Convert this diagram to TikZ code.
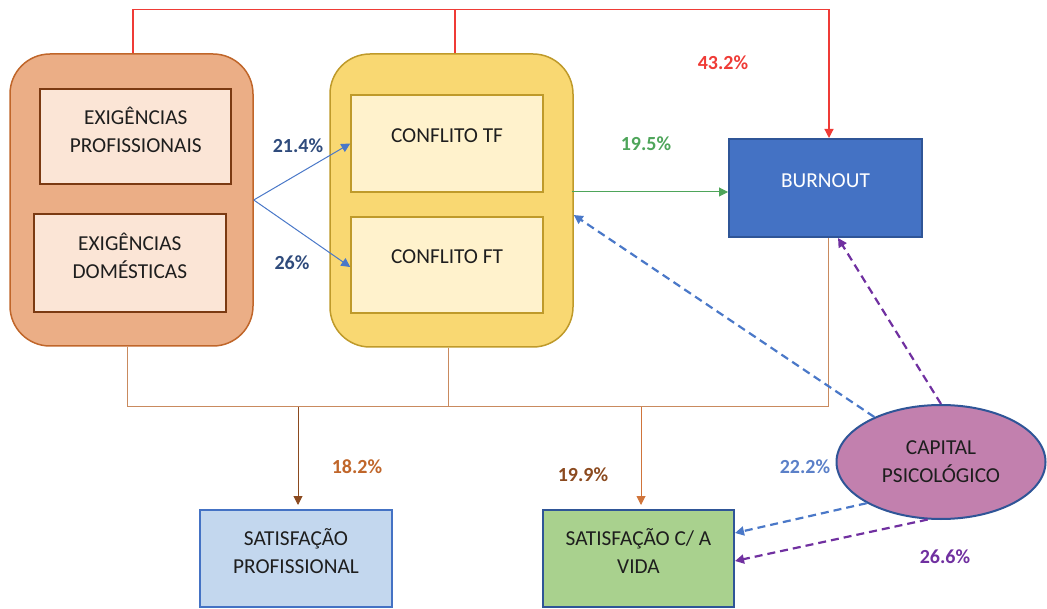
\documentclass[tikz,border=0pt]{standalone}
\usepackage{fontspec}
\setmainfont{Carlito}
\usetikzlibrary{arrows.meta,shapes.geometric,calc}
\definecolor{ogfill}{HTML}{EBAE86}
\definecolor{ogdraw}{HTML}{C0662A}
\definecolor{ogin}{HTML}{FBE5D6}
\definecolor{ogindraw}{HTML}{7B3A12}
\definecolor{ybfill}{HTML}{F9D872}
\definecolor{ybdraw}{HTML}{BF9A2A}
\definecolor{ybin}{HTML}{FFF2CC}
\definecolor{bofill}{HTML}{4472C4}
\definecolor{bodraw}{HTML}{2F5597}
\definecolor{spfill}{HTML}{C3D7EE}
\definecolor{svfill}{HTML}{A9D18E}
\definecolor{cpfill}{HTML}{C280AE}
\definecolor{linered}{HTML}{EF3B36}
\definecolor{greenl}{HTML}{4EA55A}
\definecolor{navyl}{HTML}{2F4B7C}
\definecolor{bluel}{HTML}{4A78C8}
\definecolor{bluelab}{HTML}{5B80C8}
\definecolor{purplel}{HTML}{7030A0}
\definecolor{tanl}{HTML}{C98A5E}
\definecolor{brownl}{HTML}{8B4A1F}
\definecolor{orangel}{HTML}{D0743A}
\definecolor{txt}{HTML}{1E1E1E}
\tikzset{
  bx/.style={rectangle, inner sep=0pt},
  boxtext/.style={align=center, text=txt, font=\fontsize{21.3}{28}\selectfont},
  pct/.style={font=\fontsize{20}{24}\selectfont\bfseries},
  solidarrow/.style={line width=1pt, -{Triangle[length=9pt,width=9pt]}},
  dasharrow/.style={line width=2.2pt, dash pattern=on 8pt off 5pt, -{Triangle[length=9pt,width=9pt]}},
}
\begin{document}
\begin{tikzpicture}[x=1pt,y=-1pt]
\useasboundingbox (0,0) rectangle (1047,609);
% group boxes
\node[bx, fill=ogfill, draw=ogdraw, line width=1.5pt, rounded corners=40pt, minimum width=243pt, minimum height=292pt] (og) at (131.5,200) {};
\node[bx, fill=ybfill, draw=ybdraw, line width=1.5pt, rounded corners=40pt, minimum width=243pt, minimum height=293pt] (yb) at (451.5,200.5) {};
% inner boxes
\node[bx, fill=ogin, draw=ogindraw, line width=2pt, minimum width=191pt, minimum height=95pt] (ep) at (135.75,136.5) {};
\node[bx, fill=ogin, draw=ogindraw, line width=2pt, minimum width=192pt, minimum height=98pt] (ed) at (129.85,263) {};
\node[bx, fill=ybin, draw=ybdraw, line width=1.5pt, minimum width=192pt, minimum height=97pt] (ctf) at (447,143.5) {};
\node[bx, fill=ybin, draw=ybdraw, line width=1.5pt, minimum width=192pt, minimum height=96pt] (cft) at (447,265) {};
\node[bx, fill=bofill, draw=bodraw, line width=2pt, minimum width=193pt, minimum height=98pt] (bo) at (825.5,188) {};
\node[bx, fill=spfill, draw=bofill, line width=2pt, minimum width=192pt, minimum height=97pt] (sp) at (296,558.5) {};
\node[bx, fill=svfill, draw=bodraw, line width=2pt, minimum width=191pt, minimum height=97pt] (sv) at (638.5,558.5) {};
\node[ellipse, inner sep=0pt, fill=cpfill, draw=bodraw, line width=2pt, minimum width=209pt, minimum height=114pt] (cp) at (941,462) {};
% texts
\node[boxtext] (ept) at ([yshift=7pt]ep.center) {EXIGÊNCIAS\\PROFISSIONAIS};
\node[boxtext] (edt) at ([yshift=7pt]ed.center) {EXIGÊNCIAS\\DOMÉSTICAS};
\node[boxtext] (ctft) at ([yshift=8pt]ctf.center) {CONFLITO TF};
\node[boxtext] (cftt) at ([yshift=8pt]cft.center) {CONFLITO FT};
\node[boxtext, text=white] (bot) at ([yshift=7pt]bo.center) {BURNOUT};
\node[boxtext] (spt) at ([yshift=7pt]sp.center) {SATISFAÇÃO\\PROFISSIONAL};
\node[boxtext] (svt) at ([yshift=7pt]sv.center) {SATISFAÇÃO C/ A\\VIDA};
\node[boxtext] (cpt) at (cp.center) {CAPITAL\\PSICOLÓGICO};
% red connector
\coordinate (top) at (0,9.5);
\draw[draw=linered, line width=1.2pt] ([xshift=1.5pt]og.north) -- ([xshift=1.5pt]og.north |- top) -- ([xshift=3.5pt]bo.north |- top);
\draw[draw=linered, line width=1.2pt] ([xshift=3.5pt]yb.north) -- ([xshift=3.5pt]yb.north |- top);
\draw[draw=linered, fill=linered, solidarrow, line width=1.2pt] ([xshift=3.5pt]bo.north |- top) -- ([xshift=3.5pt]bo.north);
% blue arrows
\draw[bluel, solidarrow] (og.east) -- (ctf.west);
\draw[bluel, solidarrow] (og.east) -- ([yshift=-2pt]cft.west);
% green arrow
\draw[greenl, solidarrow] ($(yb.east |- bo.west)+(-2,4)$) -- ($(bo.west)+(0,4)$);
% bottom connectors
\coordinate (br) at (828,407);
\draw[tanl, line width=1pt] ([xshift=-4pt]og.south) |- (br) -- ([xshift=2.5pt]bo.south);
\draw[tanl, line width=1pt] ([xshift=-3pt]yb.south) -- ([xshift=-3pt]yb.south |- br);
\draw[brownl, solidarrow, shorten >=4pt] ([xshift=2pt]sp.north |- br) -- ([xshift=2pt]sp.north);
\draw[orangel, solidarrow, shorten >=4pt] ([xshift=2.5pt]sv.north |- br) -- ([xshift=2.5pt]sv.north);
% dashed arrows from capital psicologico
\draw[bluel, dasharrow] (cp.146) -- ([yshift=-14.5pt]yb.east);
\draw[purplel, dasharrow] (cp.north) -- ([xshift=12.5pt]bo.south);
\draw[bluel, dasharrow] (cp.209) -- ([yshift=25.5pt]sv.east);
\draw[purplel, dasharrow] (cp.257) -- ([yshift=-2.5pt]sv.east);
% labels
\node[pct, text=linered] (l432) at (723,63) {43.2\%};
\node[pct, text=greenl] (l195) at (646,144) {19.5\%};
\node[pct, text=navyl] (l214) at (298,146) {21.4\%};
\node[pct, text=navyl] (l26) at (292,263) {26\%};
\node[pct, text=ogdraw] (l182) at (357,467) {18.2\%};
\node[pct, text=brownl] (l199) at (583,475) {19.9\%};
\node[pct, text=bluelab] (l222) at (805,467) {22.2\%};
\node[pct, text=purplel] (l266) at (945,557) {26.6\%};
\end{tikzpicture}
\end{document}
